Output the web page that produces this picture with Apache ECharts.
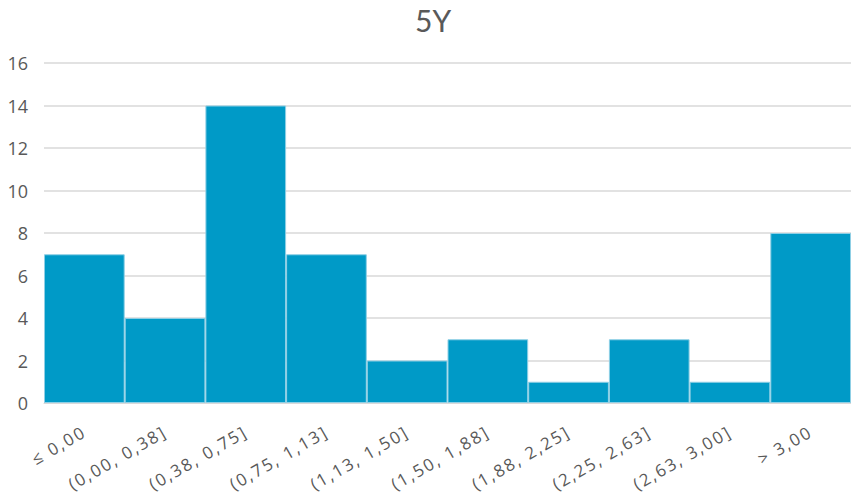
<!DOCTYPE html>
<html>
<head>
<meta charset="utf-8">
<script src="https://cdn.jsdelivr.net/npm/echarts@6/dist/echarts.min.js"></script>
<style>
  html, body { margin: 0; padding: 0; background: #ffffff; }
  #chart { width: 851px; height: 497px; }
</style>
</head>
<body>
<div id="chart"></div>
<script>
// Histogram bins and their counts
const binLabels = ['≤ 0,00', '(0,00, 0,38]', '(0,38, 0,75]', '(0,75, 1,13]', '(1,13, 1,50]',
                   '(1,50, 1,88]', '(1,88, 2,25]', '(2,25, 2,63]', '(2,63, 3,00]', '> 3,00'];
const counts = [7, 4, 14, 7, 2, 3, 1, 3, 1, 8];
const yMin = 0, yMax = 16, yStep = 2;

const chart = echarts.init(document.getElementById('chart'), null, { renderer: 'svg' });
const font = '"Open Sans", "Liberation Sans", sans-serif';
chart.setOption({
  animation: false,
  title: {
    text: '5Y',
    left: 415,
    top: 2,
    padding: 0,
    textStyle: { fontFamily: 'Lato, "Open Sans", sans-serif', fontSize: 30, lineHeight: 36, fontWeight: 'normal', color: '#595959' }
  },
  grid: { left: 44, right: 0, top: 63, bottom: 94 },
  xAxis: {
    type: 'category',
    data: binLabels,
    axisLine: { show: true, lineStyle: { color: '#d9d9d9', width: 1 } },
    axisTick: { show: false },
    axisLabel: {
      interval: 0,
      rotate: 30,
      margin: 27,
      fontFamily: font,
      fontSize: 17,
      color: '#595959'
    }
  },
  yAxis: {
    type: 'value',
    min: yMin,
    max: yMax,
    interval: yStep,
    axisLine: { show: false },
    axisTick: { show: false },
    splitLine: { lineStyle: { color: '#d9d9d9', width: 1.5 } },
    axisLabel: { fontFamily: font, fontSize: 18, color: '#595959', margin: 16 }
  },
  series: [{
    type: 'bar',
    data: counts,
    barWidth: '100%',
    barCategoryGap: 0,
    itemStyle: { color: '#009ac7', borderColor: '#8fcfe5', borderWidth: 1 }
  }]
});

// Open up the spacing of the bin labels a little
function spaceBinLabels() {
  document.querySelectorAll('#chart text').forEach(function (t) {
    if (binLabels.indexOf(t.textContent) >= 0) {
      t.style.letterSpacing = '2px';
    }
  });
}
spaceBinLabels();
chart.on('finished', spaceBinLabels);
setTimeout(spaceBinLabels, 0);
</script>
</body>
</html>
